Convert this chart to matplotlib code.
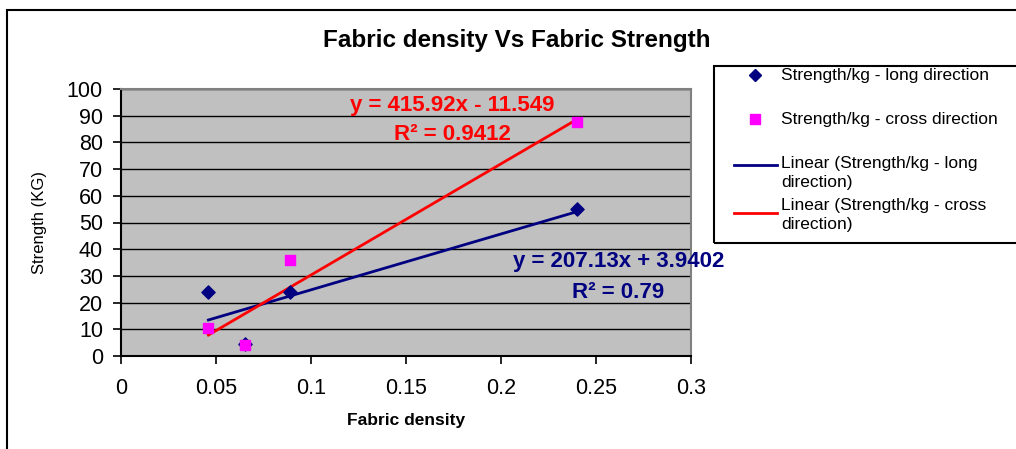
import matplotlib.pyplot as plt
from matplotlib.lines import Line2D
from matplotlib.patches import Rectangle
import numpy as np

plt.rcParams["font.family"] = ["Liberation Sans", "DejaVu Sans"]

# fabric density vs strength
density = [0.046, 0.065, 0.089, 0.24]
strength_long = [24, 4.5, 24, 55]
strength_cross = [10.3, 4.2, 36, 87.5]

eq_long = "y = 207.13x + 3.9402"
r2_long = "R² = 0.79"
eq_cross = "y = 415.92x - 11.549"
r2_cross = "R² = 0.9412"

navy = "#000080"
magenta = "#FF00FF"
red = "#FF0000"

fig = plt.figure(figsize=(10.16, 4.49), dpi=100)
W, H = 1016, 449

# outer chart border
fig.patches.append(Rectangle((7 / W, -0.05), 1.1, 1 - 10 / H + 0.05,
                             transform=fig.transFigure, fill=False,
                             edgecolor="black", linewidth=1.5))

ax = fig.add_axes([121 / W, 1 - 356 / H, 570 / W, 267 / H])
ax.set_facecolor("#C0C0C0")
ax.set_xlim(0, 0.3)
ax.set_ylim(0, 100)
ax.set_xticks(np.arange(0, 0.31, 0.05))
ax.set_xticklabels(["0", "0.05", "0.1", "0.15", "0.2", "0.25", "0.3"])
ax.set_yticks(range(0, 101, 10))
ax.grid(axis="y", color="black", linewidth=1)
ax.set_axisbelow(True)
ax.tick_params(labelsize=15.5, length=6, width=1.2, colors="black")
ax.tick_params(axis="y", pad=7)
ax.tick_params(axis="x", pad=10)
for pos in ["top", "right"]:
    ax.spines[pos].set_color("#808080")
    ax.spines[pos].set_linewidth(1.5)
for pos in ["left", "bottom"]:
    ax.spines[pos].set_linewidth(1.5)

# trend lines
x = np.array(density)
xl = np.array([x.min(), x.max()])
k1, b1 = np.polyfit(x, strength_long, 1)
k2, b2 = np.polyfit(x, strength_cross, 1)
ax.plot(xl, k1 * xl + b1, color=navy, linewidth=2, zorder=3)
ax.plot(xl, k2 * xl + b2, color=red, linewidth=2, zorder=3)

ax.scatter(density, strength_long, marker="D", s=45, color=navy, zorder=4)
ax.scatter(density, strength_cross, marker="s", s=55, color=magenta, zorder=5)

ax.set_xlabel("Fabric density", fontsize=12.5, fontweight="bold", labelpad=10)
ax.set_ylabel("Strength (KG)", fontsize=12, labelpad=14)
fig.suptitle("Fabric density Vs Fabric Strength", x=517 / W, y=1 - 40 / H,
             va="center", fontsize=17.5, fontweight="bold")

# trend line labels
lab_kw = dict(fontsize=16, fontweight="bold", ha="center", va="center")
fig.text(452 / W, 1 - 105 / H, eq_cross, color=red, **lab_kw)
fig.text(452 / W, 1 - 135 / H, r2_cross, color=red, **lab_kw)
fig.text(619 / W, 1 - 262 / H, eq_long, color=navy, **lab_kw)
fig.text(618 / W, 1 - 292 / H, r2_long, color=navy, **lab_kw)

# legend box
lax = fig.add_axes([714 / W, 1 - 243 / H, 302 / W, 177 / H])
lax.set_xlim(0, 1)
lax.set_ylim(0, 1)
lax.axis("off")
lax.add_patch(Rectangle((0, 0), 1.2, 1, fill=False, edgecolor="black",
                        linewidth=1.5, clip_on=False))
lax.add_line(Line2D([0.136], [0.949], marker="D", markersize=6.5,
                    color=navy, linestyle="none"))
lax.add_line(Line2D([0.136], [0.70], marker="s", markersize=7,
                    color=magenta, linestyle="none"))
lax.add_line(Line2D([0.066, 0.209], [0.44, 0.44], color=navy, linewidth=2))
lax.add_line(Line2D([0.066, 0.209], [0.17, 0.17], color=red, linewidth=2))
leg_kw = dict(fontsize=12.5, va="center", ha="left", linespacing=1.3)
lax.text(0.222, 0.949, "Strength/kg - long direction", **leg_kw)
lax.text(0.222, 0.70, "Strength/kg - cross direction", **leg_kw)
lax.text(0.222, 0.396, "Linear (Strength/kg - long\ndirection)", **leg_kw)
lax.text(0.222, 0.158, "Linear (Strength/kg - cross\ndirection)", **leg_kw)

fig.savefig("out.png", dpi=100)
